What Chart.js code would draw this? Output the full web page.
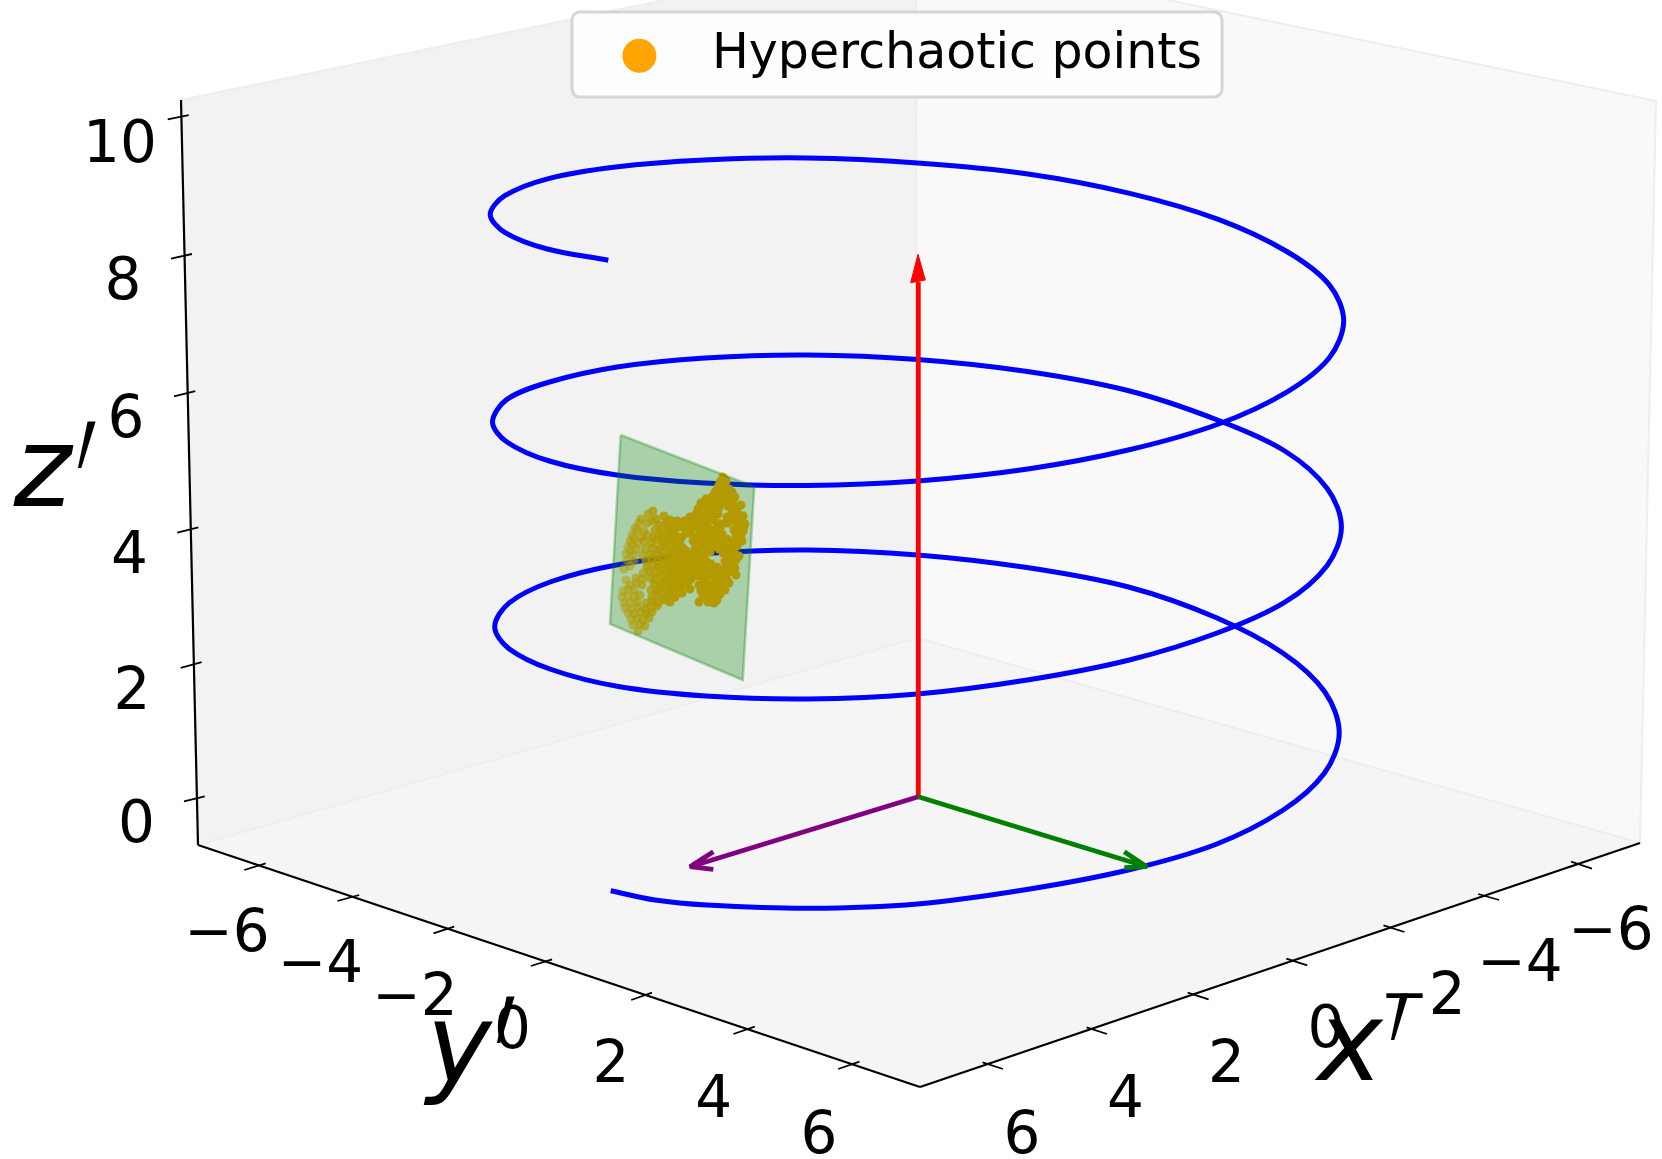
<!DOCTYPE html>
<html>
<head>
<meta charset="utf-8">
<title>Hyperchaotic points</title>
<script src="https://cdn.jsdelivr.net/npm/chart.js@4/dist/chart.umd.min.js"></script>
<style>
  html, body { margin: 0; padding: 0; background: #fff; }
  canvas { display: block; }
</style>
</head>
<body>
<canvas id="chart" width="1662" height="1159"></canvas>
<script>
const paneLeft = [[181, 100], [198, 845], [917, 638], [916, -52]];
const paneRight = [[916, -52], [917, 638], [1640, 843], [1656, 101]];
const paneFloor = [[198, 845], [920, 1087], [1640, 843], [917, 638]];

const zAxisLine = [[181, 100], [198, 845]];
const yAxisLine = [[198, 845], [920, 1087]];
const xAxisLine = [[920, 1087], [1640, 843]];

const zTicks = [[184, 801.4, 204.7, 796.3], [180.7, 667.8, 201.7, 662.1], [177.3, 532.6, 198.3, 527.4], [174, 396.3, 195.3, 391.2], [171, 258.6, 192, 254], [167.7, 119.3, 188.7, 115.2]];
const yTicks = [[244.3, 870, 265.7, 863.3], [337.4, 901, 359.2, 895], [433.4, 933.3, 454.2, 926.7], [530.8, 966, 552.1, 959.3], [631.2, 1000, 652, 992.7], [733.4, 1034, 754.8, 1026.7], [838.2, 1069, 859.5, 1061.7]];
const xTicks = [[982.6, 1062.3, 1003, 1069], [1086.6, 1027.3, 1107, 1034], [1187.7, 992.7, 1208.6, 999.3], [1286.3, 958.7, 1307.2, 965.3], [1383.5, 925.3, 1404.4, 932], [1478.2, 894, 1499.1, 900], [1571, 861.7, 1592, 868.7]];

const zTickLabels = ['0', '2', '4', '6', '8', '10'];
const zTickLabelX = [136.5, 132, 129.5, 126, 123, 120];
const zTickLabelY = [842, 709, 573, 437, 299, 161.5];
const yTickLabels = ['\u22126', '\u22124', '\u22122', '0', '2', '4', '6'];
const yTickLabelX = [227, 320.4, 415, 512.4, 611, 713.6, 819];
const yTickLabelY = [950.7, 982.3, 1015, 1048.3, 1082.3, 1116.7, 1152.7];
const xTickLabels = ['6', '4', '2', '0', '\u22122', '\u22124', '\u22126'];
const xTickLabelX = [1022, 1125.5, 1226.5, 1326, 1423, 1520, 1611];
const xTickLabelY = [1152.7, 1116.7, 1081.7, 1047.3, 1014, 981, 949.3];

const axisNames = ['x', 'y', 'z'];
const axisNameX = [1350, 459, 42.5];
const axisNameY = [1080, 1082, 506];
const primeX = [1400, 506, 87];
const primeY = [1180, 1183, 608];

const helixPath = [
  [610.7, 890.7], [655, 900], [706.8, 905], [808.5, 908.3], [917.5, 904], [1026.6, 889.5], [1128.3, 870], [1215.5, 844.5],
  [1282.5, 810.5], [1324.5, 773], [1339.2, 733], [1324.9, 692], [1282.8, 653], [1215.9, 617.5], [1128.5, 587], [1026.9, 567.5],
  [917.5, 554.9], [808.1, 550], [706.2, 553.5], [619, 564.5], [551.5, 581.5], [509.2, 602.9], [494.7, 626.7],
  [509, 648.7], [551.2, 669.5], [618.4, 686.5], [705.9, 696], [807.9, 699], [917.5, 694], [1027.2, 680], [1129.3, 660],
  [1217.1, 633], [1284.5, 602.4], [1327, 565.7], [1341.4, 526.9], [1327.2, 488.5], [1284.8, 451], [1217.4, 420], [1129.7, 391],
  [1027.4, 371.5], [917.5, 359.5], [807.6, 355], [705.1, 358], [617.2, 367], [549.5, 382], [506.9, 399.4], [492.5, 422],
  [506.9, 442], [549.3, 461], [616.8, 475], [704.8, 483], [807.3, 485.5], [917.5, 481], [1027.8, 469], [1130.4, 449.5],
  [1218.6, 424], [1286.4, 392.3], [1329.1, 358], [1343.7, 320.8], [1329.3, 284.8], [1286.8, 251.5], [1219, 219.6], [1130.8, 193.6],
  [1028, 174], [917.5, 163], [806.9, 158], [704, 160], [615.6, 167], [547.6, 178.8], [504.8, 195.7], [490.2, 214.4],
  [504.7, 232.3], [547.3, 249], [608.3, 260.2]
];

const arrowOrigin = [918.3, 796.7];
const redShaft = [arrowOrigin, [918.3, 282]];
const redHead = [[918, 254.3], [910.7, 282.7], [925.3, 280]];
const purpleArrow = [arrowOrigin, [690, 866.7], null, [713.3, 851.7], [690, 866.7], [713.3, 869.3]];
const greenArrow = [arrowOrigin, [1146.7, 866.7], null, [1124.3, 851.7], [1146.7, 866.7], [1124.3, 867.7]];

const planeCorners = [[620.7, 435], [754.3, 486.7], [742.7, 680], [610, 624]];

const hyperPoints = [
  [723, 477], [720, 482], [726, 481], [718, 487], [724, 486], [729, 489], [715, 492], [721, 493], [727, 494], [732, 492],
  [712, 497], [718, 499], [724, 498], [730, 500], [735, 497], [706, 499], [701, 503], [705, 507], [711, 503], [716, 505],
  [722, 503], [728, 506], [733, 504], [738, 507], [698, 509], [703, 512], [709, 510], [714, 511], [719, 508], [732, 511],
  [737, 512], [741, 505], [641, 519], [648, 514], [653, 511], [656, 519], [664, 516], [670, 520], [684, 521], [690, 517],
  [696, 514], [701, 518], [707, 515], [712, 517], [718, 514], [727, 517], [732, 518], [738, 516], [743, 516], [635, 528],
  [639, 523], [647, 523], [652, 521], [659, 525], [666, 523], [673, 525], [677, 521], [684, 526], [689, 524], [695, 520],
  [700, 524], [707, 522], [711, 520], [717, 523], [722, 524], [728, 523], [737, 524], [741, 521], [745, 524], [632, 535],
  [637, 530], [644, 531], [655, 530], [661, 531], [668, 528], [673, 531], [678, 527], [686, 531], [691, 528], [697, 527],
  [703, 531], [708, 528], [714, 530], [720, 528], [734, 530], [739, 529], [744, 527], [630, 541], [634, 538], [641, 537],
  [647, 535], [653, 537], [659, 535], [664, 537], [670, 533], [676, 536], [682, 537], [688, 533], [694, 536], [700, 534],
  [706, 536], [711, 533], [717, 537], [722, 534], [736, 536], [741, 535], [743, 531], [628, 547], [632, 544], [638, 543],
  [644, 541], [651, 543], [657, 540], [663, 543], [669, 540], [674, 542], [680, 541], [693, 541], [699, 540], [704, 543],
  [710, 540], [716, 543], [721, 540], [727, 539], [733, 542], [738, 540], [742, 541], [630, 551], [636, 549], [645, 549],
  [653, 548], [659, 549], [665, 546], [671, 549], [677, 545], [683, 548], [695, 549], [701, 546], [707, 549], [713, 546],
  [719, 549], [725, 546], [731, 549], [737, 546], [626, 554], [633, 555], [642, 555], [650, 554], [656, 555], [662, 552],
  [668, 555], [674, 552], [680, 554], [686, 551], [692, 555], [698, 552], [704, 555], [710, 552], [723, 553], [729, 555],
  [734, 552], [739, 556], [627, 560], [634, 561], [646, 561], [652, 559], [658, 561], [663, 558], [669, 561], [675, 558],
  [681, 561], [687, 558], [693, 561], [699, 558], [706, 561], [725, 561], [731, 558], [736, 560], [630, 566], [647, 567],
  [653, 565], [658, 567], [664, 564], [670, 567], [676, 564], [682, 567], [688, 564], [694, 567], [700, 564], [706, 567],
  [711, 564], [717, 567], [726, 567], [731, 564], [735, 568], [624, 569], [643, 573], [649, 571], [655, 573], [661, 570],
  [667, 573], [673, 570], [679, 573], [685, 570], [691, 573], [697, 570], [703, 573], [709, 570], [715, 573], [721, 570],
  [727, 573], [732, 571], [736, 575], [626, 580], [636, 578], [642, 579], [650, 578], [655, 579], [661, 576], [667, 579],
  [673, 576], [679, 579], [685, 576], [691, 579], [698, 576], [704, 579], [710, 576], [716, 579], [722, 576], [727, 580],
  [630, 585], [636, 583], [642, 585], [654, 584], [660, 585], [664, 582], [670, 585], [676, 582], [682, 585], [688, 582],
  [699, 585], [705, 582], [711, 585], [717, 582], [723, 585], [729, 583], [623, 591], [628, 589], [634, 590], [651, 590],
  [657, 591], [661, 588], [667, 591], [673, 588], [679, 590], [690, 589], [701, 591], [707, 588], [713, 591], [719, 588],
  [725, 590], [622, 597], [628, 596], [634, 597], [640, 595], [652, 597], [658, 595], [664, 597], [670, 594], [675, 597],
  [682, 593], [703, 597], [709, 594], [714, 597], [720, 594], [624, 603], [630, 603], [637, 602], [646, 603], [652, 601],
  [658, 603], [664, 600], [670, 602], [699, 602], [708, 602], [714, 603], [717, 600], [625, 608], [632, 609], [638, 607],
  [645, 609], [651, 607], [657, 606], [628, 613], [634, 614], [641, 612], [646, 614], [652, 612], [631, 619], [637, 618],
  [643, 620], [649, 618], [633, 625], [640, 624], [645, 626], [638, 631]
];

const legendLabel = 'Hyperchaotic points';

const toXY = (pts) => pts.map((p) => (p ? { x: p[0], y: p[1] } : { x: NaN, y: NaN }));
const closed = (pts) => pts.concat([pts[0]]);
// one dataset per axis family, ticks split by gaps
const tickSegments = (ticks) => {
  const out = [];
  ticks.forEach((t) => out.push([t[0], t[1]], [t[2], t[3]], null));
  return out;
};

const line = (pts, color, width, extra) => Object.assign({
  data: toXY(pts),
  showLine: true,
  borderColor: color,
  borderWidth: width,
  pointRadius: 0,
  pointHoverRadius: 0,
  fill: false,
  tension: 0
}, extra || {});

const pane = (pts, color) => line(closed(pts), '#eeeeee', 2, { fill: 'shape', backgroundColor: color });

const layers = [
  pane(paneLeft, '#f2f2f2'),
  pane(paneRight, '#f9f9f9'),
  pane(paneFloor, '#f5f5f5'),
  line(zAxisLine, '#000', 2.2),
  line(yAxisLine, '#000', 2.2),
  line(xAxisLine, '#000', 2.2),
  line(tickSegments(zTicks), '#000', 1.8),
  line(tickSegments(yTicks), '#000', 1.8),
  line(tickSegments(xTicks), '#000', 1.8),
  line(helixPath, '#0000ff', 5, { tension: 0.33 }),
  line(redShaft, '#ff0000', 4.8),
  line(closed(redHead), '#ff0000', 1, { fill: 'shape', backgroundColor: '#ff0000' }),
  line(purpleArrow, '#800080', 4.8, { borderJoinStyle: 'bevel' }),
  line(greenArrow, '#008000', 4.8, { borderJoinStyle: 'bevel' }),
  {
    label: legendLabel,
    data: toXY(hyperPoints),
    showLine: false,
    pointRadius: 4.5,
    pointHoverRadius: 4.5,
    pointBorderWidth: 0,
    // depth shading: the far side of the cloud fades out
    pointBackgroundColor: (ctx) => {
      const x = ctx.parsed ? ctx.parsed.x : 740;
      const a = Math.min(1, Math.max(0.5, 0.5 + (x - 625) / 50 * 0.5));
      return `rgba(255,165,0,${a})`;
    }
  },
  line(closed(planeCorners), 'rgba(0,128,0,0.3)', 2.6, { fill: 'shape', backgroundColor: 'rgba(0,128,0,0.3)' })
];
// chart.js paints high order first, so the list above reads bottom to top
layers.forEach((d, i) => { d.order = layers.length - i; });

const textPlugin = {
  id: 'axisText',
  afterDatasetsDraw(chart) {
    const { ctx, scales } = chart;
    const px = (v) => scales.x.getPixelForValue(v);
    const py = (v) => scales.y.getPixelForValue(v);
    ctx.save();
    ctx.fillStyle = '#000';
    ctx.textAlign = 'center';
    ctx.textBaseline = 'alphabetic';

    ctx.font = '58px "DejaVu Sans"';
    zTickLabels.forEach((t, i) => ctx.fillText(t, px(zTickLabelX[i]), py(zTickLabelY[i])));
    yTickLabels.forEach((t, i) => ctx.fillText(t, px(yTickLabelX[i]), py(yTickLabelY[i])));
    xTickLabels.forEach((t, i) => ctx.fillText(t, px(xTickLabelX[i]), py(xTickLabelY[i])));

    ctx.font = 'italic 110px "DejaVu Sans"';
    axisNames.forEach((t, i) => ctx.fillText(t, px(axisNameX[i]), py(axisNameY[i])));
    // the prime glyph is much flatter here than in the picture, so stretch it
    ctx.font = 'italic 165px "DejaVu Sans"';
    axisNames.forEach((t, i) => {
      ctx.save();
      ctx.translate(px(primeX[i]), py(primeY[i]));
      ctx.scale(0.49, 1.55);
      ctx.fillText('\u2032', 0, 0);
      ctx.restore();
    });

    // legend sits on top of the panes
    ctx.beginPath();
    ctx.roundRect(px(572), py(12), 650, 85, 8);
    ctx.fillStyle = 'rgba(255,255,255,0.8)';
    ctx.fill();
    ctx.strokeStyle = 'rgba(204,204,204,0.8)';
    ctx.lineWidth = 3;
    ctx.stroke();
    ctx.beginPath();
    ctx.arc(px(639.4), py(55.7), 17, 0, Math.PI * 2);
    ctx.fillStyle = '#ffa500';
    ctx.fill();
    ctx.fillStyle = '#000';
    ctx.textAlign = 'left';
    ctx.font = '49px "DejaVu Sans"';
    ctx.fillText(legendLabel, px(712), py(68.3));
    ctx.restore();
  }
};

new Chart(document.getElementById('chart'), {
  type: 'scatter',
  data: { datasets: layers },
  options: {
    responsive: false,
    animation: false,
    layout: { padding: 0, autoPadding: false },
    plugins: {
      legend: { display: false },
      tooltip: { enabled: false }
    },
    scales: {
      x: { type: 'linear', display: false, min: 0, max: 1662 },
      y: { type: 'linear', display: false, min: 0, max: 1159, reverse: true }
    }
  },
  plugins: [textPlugin]
});
</script>
</body>
</html>
